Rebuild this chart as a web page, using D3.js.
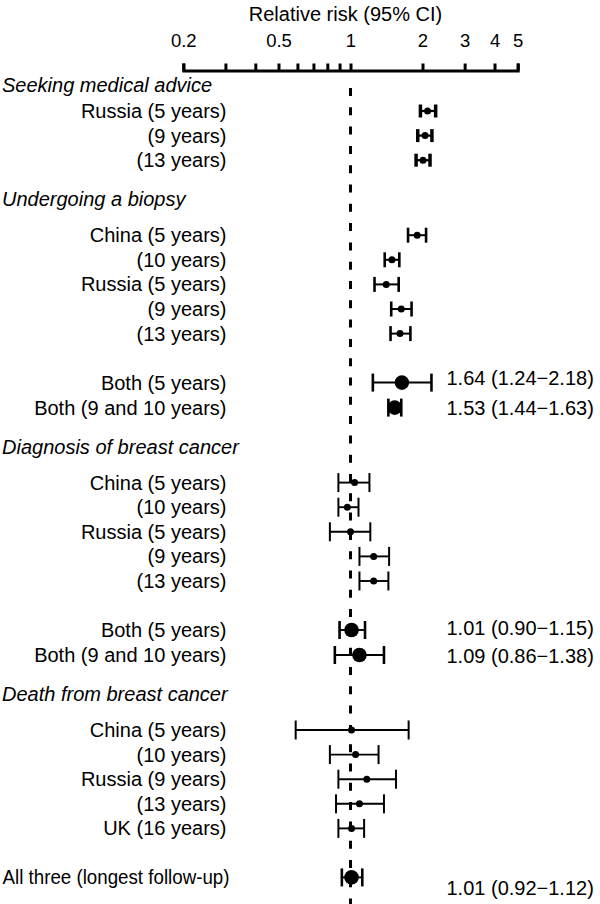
<!DOCTYPE html>
<html>
<head>
<meta charset="utf-8">
<script src="https://cdn.jsdelivr.net/npm/d3@7"></script>
<style>
  html, body { margin: 0; padding: 0; background: #fff; }
  svg { display: block; }
  text { font-family: "Liberation Sans", Arial, Helvetica, sans-serif; fill: #000; }
</style>
</head>
<body>
<svg id="chart" width="600" height="904"></svg>
<script>
// ---------------- DATA ----------------
const groupTitles = [
  "Seeking medical advice",
  "Undergoing a biopsy",
  "Diagnosis of breast cancer",
  "Death from breast cancer"
];
const rowLabels = [
  "Russia (5 years)", "(9 years)", "(13 years)",
  "China (5 years)", "(10 years)", "Russia (5 years)", "(9 years)", "(13 years)",
  "Both (5 years)", "Both (9 and 10 years)",
  "China (5 years)", "(10 years)", "Russia (5 years)", "(9 years)", "(13 years)",
  "Both (5 years)", "Both (9 and 10 years)",
  "China (5 years)", "(10 years)", "Russia (9 years)", "(13 years)", "UK (16 years)",
  "All three (longest follow-up)"
];
const rowGroup = [0,0,0, 1,1,1,1,1, 1,1, 2,2,2,2,2, 2,2, 3,3,3,3,3, 3];
const rowPooled = [false,false,false, false,false,false,false,false, true,true,
                   false,false,false,false,false, true,true,
                   false,false,false,false,false, true];
const rowRR = [2.10, 2.05, 2.01, 1.90, 1.49, 1.41, 1.63, 1.61, 1.64, 1.53,
               1.04, 0.97, 1.00, 1.25, 1.25, 1.01, 1.09,
               1.01, 1.05, 1.17, 1.09, 1.01, 1.01];
const rowLo = [1.96, 1.91, 1.88, 1.74, 1.39, 1.26, 1.48, 1.47, 1.24, 1.44,
               0.89, 0.89, 0.82, 1.09, 1.09, 0.90, 0.86,
               0.59, 0.82, 0.89, 0.87, 0.89, 0.92];
const rowHi = [2.27, 2.19, 2.15, 2.07, 1.60, 1.59, 1.80, 1.78, 2.18, 1.63,
               1.20, 1.08, 1.21, 1.45, 1.44, 1.15, 1.38,
               1.75, 1.31, 1.55, 1.38, 1.14, 1.12];
const rowValueText = ["", "", "", "", "", "", "", "", "1.64 (1.24\u22122.18)", "1.53 (1.44\u22121.63)",
                      "", "", "", "", "", "1.01 (0.90\u22121.15)", "1.09 (0.86\u22121.38)",
                      "", "", "", "", "", "1.01 (0.92\u22121.12)"];
const tickValues = [0.2, 0.3, 0.4, 0.5, 0.6, 0.7, 0.8, 0.9, 1, 2, 3, 4, 5];
const tickLabels = ["0.2", "", "", "0.5", "", "", "", "", "1", "2", "3", "4", "5"];
const axisTitle = "Relative risk (95% CI)";

// ---------------- LAYOUT ----------------
const svg = d3.select("#chart");
const x = d3.scaleLog().domain([0.2, 5]).range([183.3, 517.7]);
const axisY = 70.5;
const FS = 20;
const labelRight = 226.5;

// per-group marker styles
const groupStyle = [
  { cap: 13, capW: 3.5, lineW: 2.2 },
  { cap: 15, capW: 2.6, lineW: 2.0 },
  { cap: 19, capW: 2.0, lineW: 1.9 },
  { cap: 19, capW: 2.0, lineW: 1.9 }
];
const pooledCap = 18;

// vertical positions computed by walking the structure
const step = 24.6;
const headerY = [];
const rowY = [];
{
  let y = 85;
  let prevGroup = -1, prevPooled = false;
  rowLabels.forEach((lab, i) => {
    const g = rowGroup[i];
    if (g !== prevGroup) {
      if (prevGroup >= 0) y += 39;
      headerY[g] = y;
      y += (g === 0 ? 26 : 36);
    } else if (rowPooled[i] && !prevPooled) {
      y += 49;
    } else {
      y += (rowPooled[i] ? 25 : step);
    }
    rowY.push(y);
    prevGroup = g; prevPooled = rowPooled[i];
  });
}
const valueDy = { 8: -5, 9: 0, 15: -2, 16: 1, 22: 11 };

// ---------------- AXIS ----------------
svg.append("text")
  .attr("x", 345.5).attr("y", 20.5)
  .attr("text-anchor", "middle")
  .style("font-size", FS + "px")
  .text(axisTitle);

const axis = d3.axisTop(x)
  .tickValues(tickValues)
  .tickFormat((d, i) => tickLabels[i])
  .tickSize(7)
  .tickSizeOuter(7)
  .tickPadding(17);

const gAxis = svg.append("g")
  .attr("transform", `translate(0,${axisY})`)
  .call(axis);
gAxis.select(".domain").attr("stroke", "#000").attr("stroke-width", 3).attr("fill", "none");
gAxis.selectAll(".tick line").attr("stroke", "#000").attr("stroke-width", 3);
gAxis.selectAll(".tick text")
  .attr("fill", "#000")
  .style("font-size", "18.5px")
  .style("font-family", '"Liberation Sans", Arial, Helvetica, sans-serif');

// ---------------- REFERENCE LINE ----------------
svg.append("line")
  .attr("x1", x(1)).attr("x2", x(1))
  .attr("y1", 88).attr("y2", 904)
  .attr("stroke", "#000")
  .attr("stroke-width", 3)
  .attr("stroke-dasharray", "8,11.3");

// ---------------- HEADERS ----------------
svg.selectAll("text.header")
  .data(groupTitles)
  .join("text")
  .attr("class", "header")
  .attr("x", 2)
  .attr("y", (d, i) => headerY[i])
  .attr("dy", "0.35em")
  .style("font-size", FS + "px")
  .style("font-style", "italic")
  .text(d => d);

// ---------------- ROWS ----------------
const rows = rowLabels.map((lab, i) => ({
  label: lab, g: rowGroup[i], pooled: rowPooled[i],
  rr: rowRR[i], lo: rowLo[i], hi: rowHi[i], vt: rowValueText[i], y: rowY[i], i
}));

const labels = svg.selectAll("text.rowlabel")
  .data(rows)
  .join("text")
  .attr("class", "rowlabel")
  .attr("x", labelRight)
  .attr("y", d => d.y)
  .attr("dy", "0.35em")
  .attr("text-anchor", "end")
  .style("font-size", FS + "px")
  .text(d => d.label);

// labels too long for the label column start at the left margin, fitted to the column
labels.each(function () {
  const w = this.getComputedTextLength();
  if (w > labelRight - 4) {
    d3.select(this)
      .attr("x", 2.5)
      .attr("text-anchor", "start")
      .attr("textLength", 227)
      .attr("lengthAdjust", "spacingAndGlyphs");
  }
});

const marks = svg.selectAll("g.mark")
  .data(rows)
  .join("g")
  .attr("class", "mark");

marks.append("line")
  .attr("x1", d => x(d.lo)).attr("x2", d => x(d.hi))
  .attr("y1", d => d.y).attr("y2", d => d.y)
  .attr("stroke", "#000")
  .attr("stroke-width", d => groupStyle[d.g].lineW);

["lo", "hi"].forEach(k => {
  marks.append("line")
    .attr("x1", d => x(d[k])).attr("x2", d => x(d[k]))
    .attr("y1", d => d.y - (d.pooled ? pooledCap : groupStyle[d.g].cap) / 2)
    .attr("y2", d => d.y + (d.pooled ? pooledCap : groupStyle[d.g].cap) / 2)
    .attr("stroke", "#000")
    .attr("stroke-width", d => d.pooled ? 2.6 : groupStyle[d.g].capW);
});

marks.append("circle")
  .attr("cx", d => x(d.rr))
  .attr("cy", d => d.y)
  .attr("r", d => d.pooled ? 7.3 : 3.5)
  .attr("fill", "#000");

svg.selectAll("text.value")
  .data(rows.filter(d => d.vt))
  .join("text")
  .attr("class", "value")
  .attr("x", 446.5)
  .attr("y", d => d.y + (valueDy[d.i] || 0))
  .attr("dy", "0.35em")
  .style("font-size", FS + "px")
  .text(d => d.vt);
</script>
</body>
</html>
